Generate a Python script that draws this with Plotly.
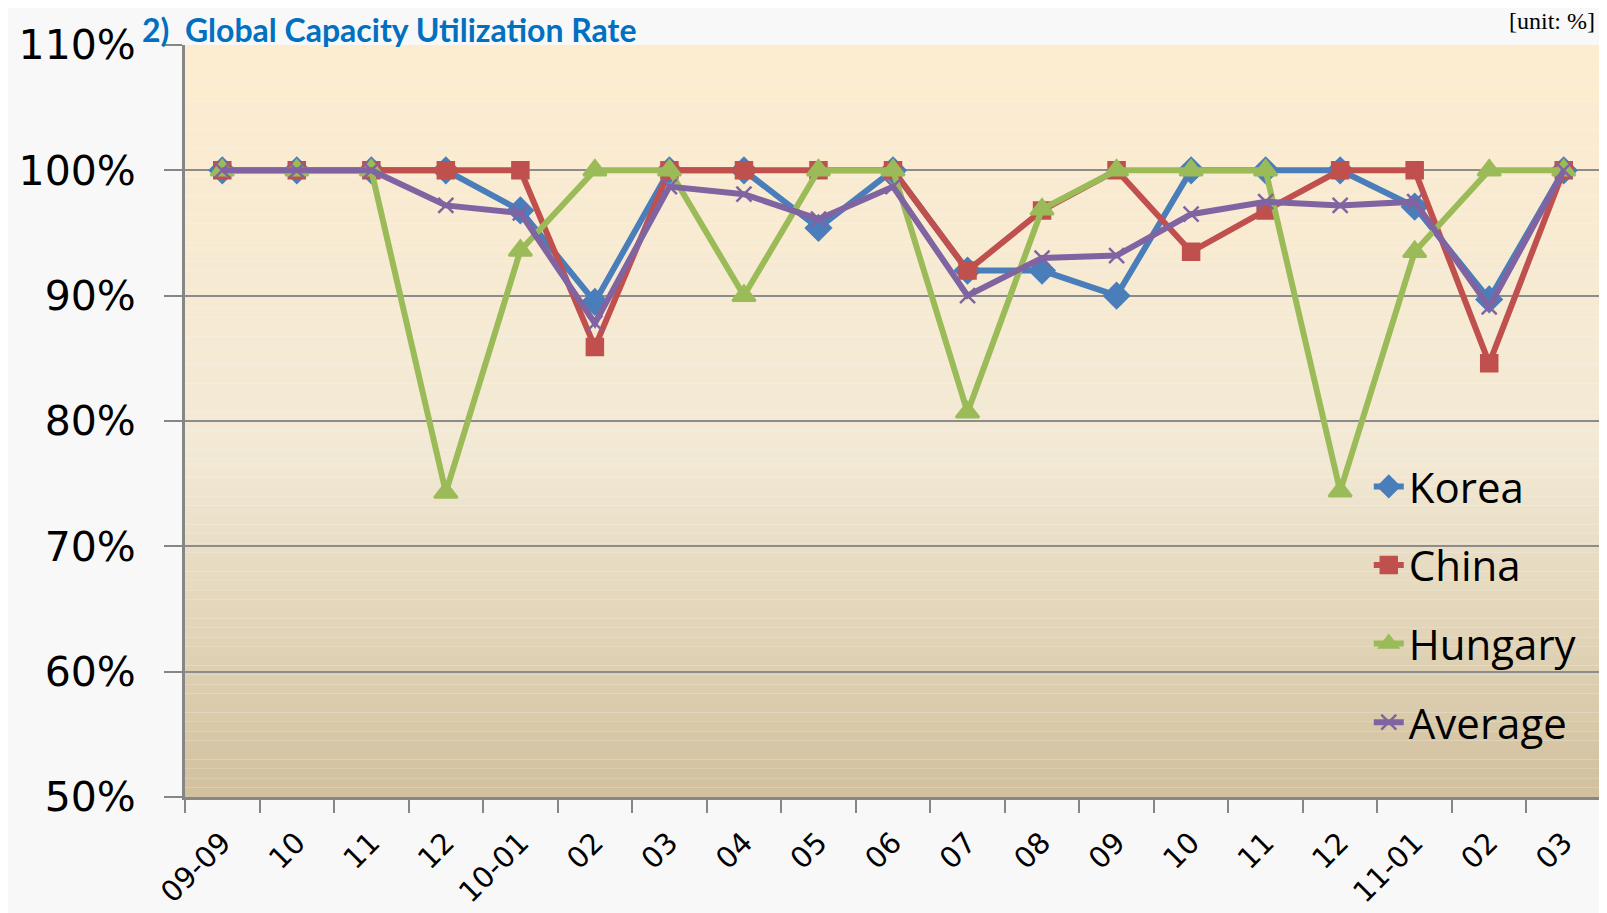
import plotly.graph_objects as go

# months (unique keys) and the short labels shown under the axis
periods = ["2009-09", "2009-10", "2009-11", "2009-12", "2010-01", "2010-02", "2010-03",
           "2010-04", "2010-05", "2010-06", "2010-07", "2010-08", "2010-09", "2010-10",
           "2010-11", "2010-12", "2011-01", "2011-02", "2011-03"]
tick_labels = ["09-09", "10", "11", "12", "10-01", "02", "03", "04", "05", "06",
               "07", "08", "09", "10", "11", "12", "11-01", "02", "03"]

# utilization rate, %
korea = [100, 100, 100, 100, 96.8, 89.5, 100, 100, 95.4, 100, 92.0, 92.0, 90.0, 100, 100, 100, 97.1, 89.7, 100]
china = [100, 100, 100, 100, 100, 85.9, 100, 100, 100, 100, 92.0, 96.8, 100, 93.5, 96.8, 100, 100, 84.6, 100]
hungary = [100, 100, 100, 74.3, 93.6, 100, 100, 90.0, 100, 100, 80.7, 96.9, 100, 100, 100, 74.4, 93.5, 100, 100]
average = [100, 100, 100, 97.2, 96.6, 87.8, 98.7, 98.1, 96.1, 98.7, 90.0, 93.0, 93.2, 96.5, 97.5, 97.2, 97.5, 89.1, 100]

y_ticks = [50, 60, 70, 80, 90, 100, 110]
y_labels = ["50%", "60%", "70%", "80%", "90%", "100%", "110%"]

series = [
    ("Korea", korea, "#4A7EBB", "diamond", 19),
    ("China", china, "#C0504D", "square", 16),
    ("Hungary", hungary, "#9BBB59", "triangle-up", 20),
    ("Average", average, "#8064A2", "x-thin-open", 15),
]

fig = go.Figure()
for name, vals, color, sym, size in series:
    fig.add_trace(go.Scatter(
        x=periods, y=vals, name=name, mode="lines+markers", legendgroup=name,
        line=dict(color=color, width=6),
        marker=dict(symbol=sym, size=size, color=color, line=dict(color=color, width=2.5)),
    ))

# vertical gradient of the plot area, drawn as thin bands
def mix(c1, c2, t):
    a = [int(c1[i:i + 2], 16) for i in (1, 3, 5)]
    b = [int(c2[i:i + 2], 16) for i in (1, 3, 5)]
    return "rgb(%d,%d,%d)" % tuple(round(a[k] + (b[k] - a[k]) * t) for k in range(3))

stops = [(0.0, "#FDECD0"), (0.55, "#F2E9D4"), (1.0, "#D1C09D")]
n_bands = 80
shapes = []
for i in range(n_bands):
    t = (i + 0.5) / n_bands  # 0 = top
    for (p0, c0), (p1, c1) in zip(stops[:-1], stops[1:]):
        if p0 <= t <= p1:
            col = mix(c0, c1, (t - p0) / (p1 - p0))
            break
    shapes.append(dict(type="rect", xref="paper", yref="paper", layer="below",
                       x0=0, x1=1, y0=1 - (i + 1) / n_bands, y1=1 - i / n_bands,
                       fillcolor=col, line=dict(width=0)))

# page body keeps an 8px margin, so the figure is 8px smaller than the window
fig.update_layout(
    width=1599, height=905,
    margin=dict(l=177, r=6, t=37, b=116),
    paper_bgcolor="#f8f8f8",
    plot_bgcolor="rgba(0,0,0,0)",
    shapes=shapes,
    showlegend=True,
    legend=dict(x=0.836, xanchor="left", y=0.458, yanchor="top",
                bgcolor="rgba(0,0,0,0)", tracegroupgap=21,
                font=dict(family="Open Sans", size=42, color="black")),
    xaxis=dict(type="category", tickvals=periods, ticktext=tick_labels,
               tickson="boundaries", ticks="outside", ticklen=13, tickwidth=2,
               tickcolor="#868686", showline=True, linecolor="#868686", linewidth=3,
               showgrid=False, tickangle=-45, ticklabelstandoff=14, automargin=False,
               tickfont=dict(family="DejaVu Sans", size=29, color="black"),
               range=[-0.5, len(periods) - 0.5]),
    yaxis=dict(range=[50, 110], tickvals=y_ticks, ticktext=y_labels,
               ticks="outside", ticklen=18, tickwidth=2, tickcolor="#868686",
               showline=True, linecolor="#868686", linewidth=3,
               showgrid=True, gridcolor="#8c8c8c", gridwidth=2, zeroline=False,
               ticklabelstandoff=20, automargin=False,
               tickfont=dict(family="DejaVu Sans", size=41, color="black")),
    annotations=[
        dict(text="<b>2)  Global Capacity Utilization Rate</b>", xref="paper", yref="paper",
             x=-0.032, y=1.049, xanchor="left", yanchor="top", showarrow=False,
             font=dict(family="Lato", size=32, color="#0070C0")),
        dict(text="[unit: %]", xref="paper", yref="paper", x=0.997, y=1.032,
             xanchor="right", yanchor="middle", showarrow=False,
             font=dict(family="Liberation Serif", size=24, color="black")),
    ],
)

fig.write_html("out.html")
